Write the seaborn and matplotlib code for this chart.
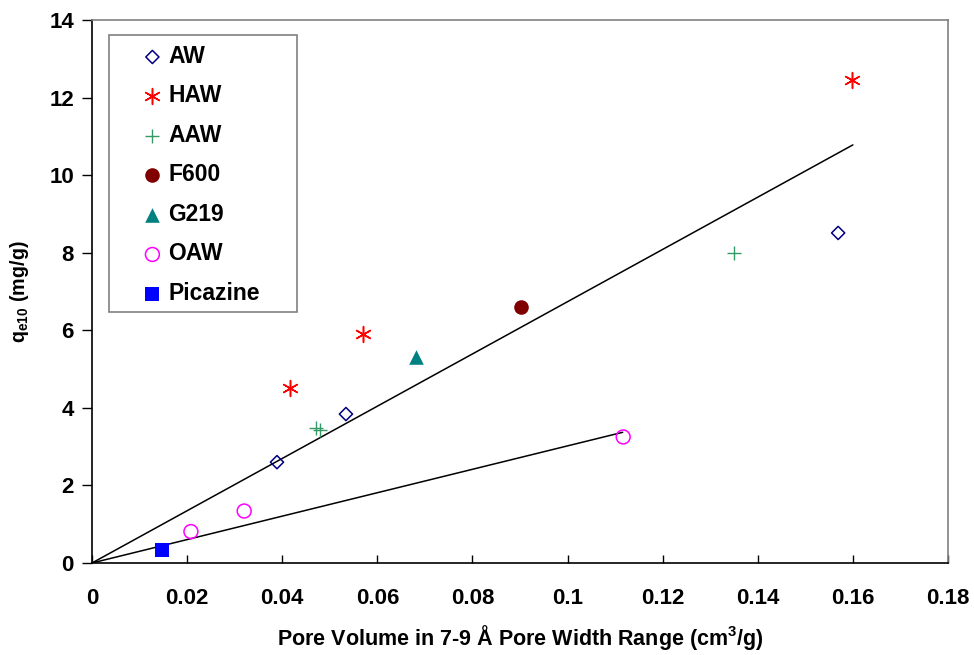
import matplotlib
matplotlib.use("Agg")
import matplotlib.pyplot as plt
import seaborn as sns
import pandas as pd
from matplotlib.patches import Rectangle

# ---- data ----
aw_x = [0.0389, 0.0534, 0.1569]
aw_y = [2.60, 3.84, 8.51]
haw_x = [0.0416, 0.0570, 0.1599]
haw_y = [4.51, 5.90, 12.45]
aaw_x = [0.0471, 0.0479, 0.1351]
aaw_y = [3.48, 3.42, 7.98]
f600_x = [0.0902]
f600_y = [6.60]
g219_x = [0.0681]
g219_y = [5.31]
oaw_x = [0.0208, 0.0320, 0.1117]
oaw_y = [0.81, 1.34, 3.25]
pic_x = [0.0147]
pic_y = [0.335]

line1_x = [0.0, 0.160]
line1_y = [0.0, 10.78]
line2_x = [0.0, 0.1116]
line2_y = [0.0, 3.37]

series_names = ["AW", "HAW", "AAW", "F600", "G219", "OAW", "Picazine"]
x_ticks = [0, 0.02, 0.04, 0.06, 0.08, 0.1, 0.12, 0.14, 0.16, 0.18]
x_tick_labels = ["0", "0.02", "0.04", "0.06", "0.08", "0.1", "0.12", "0.14", "0.16", "0.18"]
y_ticks = [0, 2, 4, 6, 8, 10, 12, 14]

sns.set_style("white")
plt.rcParams['font.family'] = ['Liberation Sans', 'DejaVu Sans']
plt.rcParams['font.weight'] = 'bold'
plt.rcParams['axes.labelweight'] = 'bold'
plt.rcParams['text.color'] = 'black'
plt.rcParams['axes.labelcolor'] = 'black'
plt.rcParams['xtick.color'] = 'black'
plt.rcParams['ytick.color'] = 'black'

fig, ax = plt.subplots(figsize=(9.74, 6.55), dpi=100)
fig.subplots_adjust(left=92/974, right=948/974, top=1-20/655, bottom=1-563/655)

# fit lines
sns.lineplot(x=line1_x, y=line1_y, ax=ax, color="black", linewidth=1.1, legend=False)
sns.lineplot(x=line2_x, y=line2_y, ax=ax, color="black", linewidth=1.1, legend=False)

styles = [
    (aw_x, aw_y, dict(marker="D", s=45, facecolor="none", edgecolor="#000080", linewidth=1.1)),
    (haw_x, haw_y, dict(marker=(6, 2, 0), s=130, color="#FF0000", linewidth=1.1)),
    (aaw_x, aaw_y, dict(marker="+", s=110, color="#339966", linewidth=1.0)),
    (f600_x, f600_y, dict(marker="o", s=110, color="#800000", edgecolor="#800000", linewidth=0)),
    (g219_x, g219_y, dict(marker="^", s=110, color="#008080", edgecolor="#008080", linewidth=0)),
    (oaw_x, oaw_y, dict(marker="o", s=100, facecolor="none", edgecolor="#FF00FF", linewidth=1.1)),
    (pic_x, pic_y, dict(marker="s", s=95, color="#0000FF", edgecolor="#0000FF", linewidth=0)),
]
for name, (xs, ys, kw) in zip(series_names, styles):
    df = pd.DataFrame({"x": xs, "y": ys})
    sns.scatterplot(data=df, x="x", y="y", ax=ax, label=name, zorder=3, **kw)

ax.set_xlim(0, 0.18)
ax.set_ylim(0, 14)
ax.set_xticks(x_ticks)
ax.set_xticklabels(x_tick_labels)
ax.set_yticks(y_ticks)

ax.tick_params(axis="x", direction="in", length=6, width=1, pad=18, labelsize=16, colors="black")
ax.tick_params(axis="y", direction="out", length=7, width=1, pad=6, labelsize=16, colors="black", left=True)
ax.tick_params(axis="x", bottom=True)
for lab in ax.get_xticklabels() + ax.get_yticklabels():
    lab.set_fontweight("bold")

for s in ["left", "bottom"]:
    ax.spines[s].set_color("black")
    ax.spines[s].set_linewidth(1.2)
for s in ["top", "right"]:
    ax.spines[s].set_color("#808080")
    ax.spines[s].set_linewidth(1.2)

ax.set_xlabel("Pore Volume in 7-9 Å Pore Width Range (cm$^{\\mathregular{3}}$/g)",
              fontsize=15.5, fontweight="bold", labelpad=10, color="black")
ax.set_ylabel("q$_{\\mathregular{e10}}$ (mg/g)", fontsize=14.2, fontweight="bold", labelpad=13,
              color="black")

leg = ax.legend(loc="upper left", bbox_to_anchor=(0.0585, 0.954), frameon=False,
                prop={"weight": "bold", "size": 16.5}, handlelength=0.9, handletextpad=0.25,
                labelspacing=0.72, borderpad=0, borderaxespad=0, scatterpoints=1)
for t in leg.get_texts():
    t.set_color("black")
ax.add_patch(Rectangle((0.0199, 0.4622), 0.2196, 0.5102, transform=ax.transAxes,
                       facecolor="none", edgecolor="#808080", linewidth=1.2, zorder=4,
                       clip_on=False))

fig.savefig("out.png", dpi=100)
